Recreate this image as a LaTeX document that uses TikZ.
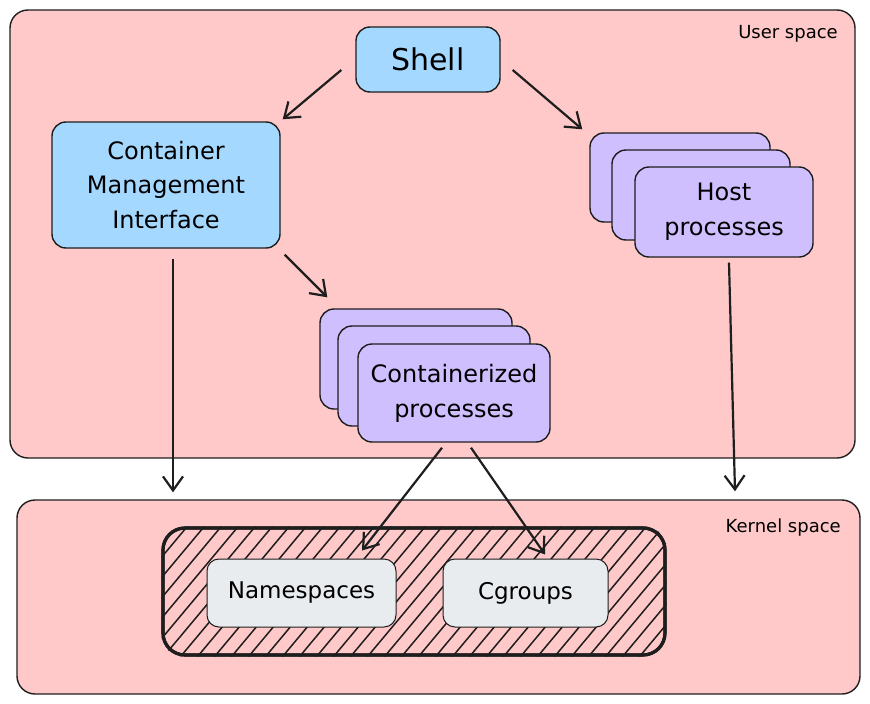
\documentclass[tikz,border=0pt]{standalone}
\usepackage{fontspec}
\setmainfont{DejaVu Sans}
\usetikzlibrary{arrows.meta,calc}
\definecolor{ink}{HTML}{1E1E1E}
\definecolor{pinkbg}{HTML}{FFC9C9}
\definecolor{bluebox}{HTML}{A5D8FF}
\definecolor{purplebox}{HTML}{D0BFFF}
\definecolor{graybox}{HTML}{E9ECEF}
\begin{document}
\begin{tikzpicture}[x=1pt,y=-1pt,
  panel/.style={draw=ink,fill=pinkbg,line width=1.4pt,rounded corners=18pt,inner sep=0pt},
  bluenode/.style={draw=ink,fill=bluebox,line width=1.4pt,rounded corners=14pt,inner sep=0pt,align=center,font=\fontsize{24}{34.5}\selectfont},
  procbox/.style={draw=ink,fill=purplebox,line width=1.4pt,rounded corners=14pt,inner sep=0pt,align=center,font=\fontsize{24}{35}\selectfont},
  kbox/.style={draw=ink,fill=graybox,line width=1pt,rounded corners=12pt,inner sep=0pt,font=\fontsize{23}{28}\selectfont},
  hatchbox/.style={draw=ink,line width=3.2pt,rounded corners=22pt,inner sep=0pt},
  spacelabel/.style={font=\fontsize{18}{20}\selectfont,anchor=east,inner sep=0pt},
  arr/.style={draw=ink,line width=2.2pt,-{Straight Barb[length=14pt,width=20pt,line width=2.2pt]}}]
\useasboundingbox (0,0) rectangle (870,704);
% panels
\node[panel,minimum width=845pt,minimum height=448pt] (user) at (432.5,234) {};
\node[panel,minimum width=843pt,minimum height=194pt] (kernel) at (438.5,597) {};
\node[spacelabel] (ulabel) at (838,34) {User space};
\node[spacelabel] (klabel) at (841,528) {Kernel space};
% user-space nodes
\node[bluenode,minimum width=144pt,minimum height=65pt,font=\fontsize{30}{34}\selectfont] (shell) at (428,59.5) {Shell};
\node[bluenode,minimum width=228pt,minimum height=126pt] (cmi) at (166,185) {Container\\Management\\Interface};
\node[procbox,minimum width=180pt,minimum height=89pt] (hostback) at (680,177.5) {};
\node[procbox,minimum width=178pt,minimum height=90pt] (hostmid) at (701,195) {};
\node[procbox,minimum width=178pt,minimum height=90pt] (hostfront) at (724,212) {Host\\processes};
\node[procbox,minimum width=192pt,minimum height=100pt] (contback) at (416,359) {};
\node[procbox,minimum width=192pt,minimum height=100pt] (contmid) at (434,376) {};
\node[procbox,minimum width=192pt,minimum height=98pt] (contfront) at (454,393) {Containerized\\processes};
% kernel-space nodes
\node[hatchbox,minimum width=502pt,minimum height=127pt] (hatch) at (414,591.5) {};
\begin{scope}
  \clip[rounded corners=22pt] (hatch.north west) rectangle (hatch.south east);
  \foreach \x in {40,57,...,700} {
    \draw[ink,line width=1.5pt] (\x,662) -- ++(117,-140);
  }
\end{scope}
\node[hatchbox,minimum width=502pt,minimum height=127pt] (hatchborder) at (hatch) {};
\node[kbox,minimum width=189pt,minimum height=68pt] (ns) at (301.5,593) {Namespaces};
\node[kbox,minimum width=165pt,minimum height=68pt] (cg) at (525.5,593) {Cgroups};
% connectors
\draw[arr] ($(shell.west)+(-14,10.5)$) -- ($(cmi.north east)+(2,-2)$);
\draw[arr] ($(shell.east)+(12,10.5)$) -- ($(hostback.north west)+(-7,-3)$);
\draw[arr] ($(cmi.south east)+(4,6)$) -- ($(contback.north west)+(8,-11)$);
\draw[arr] ($(cmi.south)+(7,10)$) -- ($(cmi.south |- kernel.north)+(7,-7)$);
\draw[arr] ($(hostfront.south)+(5,5)$) -- ($(hostfront.south |- kernel.north)+(11,-8)$);
\draw[arr] ($(contfront.south)+(-12,5)$) -- ($(ns.north)+(60.5,-8)$);
\draw[arr] ($(contfront.south)+(17,5)$) -- ($(cg.north)+(19.5,-4)$);
\end{tikzpicture}
\end{document}
